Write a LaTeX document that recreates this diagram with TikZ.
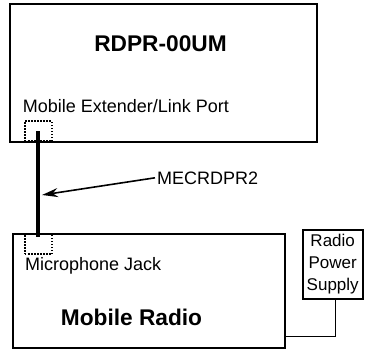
\documentclass[tikz,border=0pt]{standalone}
\usepackage{fontspec}
\setmainfont{Liberation Sans}
\usetikzlibrary{arrows.meta,positioning,calc}
\tikzset{
    box/.style={draw, line width=2pt, inner sep=0pt, outer sep=0pt},
    port/.style={draw, line width=1.5pt, dash pattern=on 1.5pt off 1.5pt, minimum width=27pt, minimum height=20pt, inner sep=0pt},
    cable/.style={line width=4pt, shorten >=7pt},
    pointer/.style={-{Stealth[length=16pt, width=9pt]}, line width=1.6pt},
    wire/.style={line width=1.5pt}
}

\begin{document}
\begin{tikzpicture}[
        x=1pt, y=-1pt,
        txt/.style={font=\fontsize{18}{22}\selectfont, inner sep=0pt},
        title/.style={font=\fontsize{22.7}{27}\selectfont\bfseries, anchor=base, inner sep=0pt}
    ]
    \useasboundingbox (0,0) rectangle (368,351);

    % RDPR unit
    \node[box, minimum width=307, minimum height=138] (rdpr) at (163.5,73) {};
    \node[title] (rdprname) at (160.5,51.7) {RDPR-00UM};
    \node[txt, anchor=base west] (mel) at (22.7,112.7) {Mobile Extender/Link Port};
    \node[port] (mport) at (38.5,131) {};

    % Mobile radio
    \node[box, minimum width=272, minimum height=114] (radio) at (149,291) {};
    \node[port] (jack) at (38.5,244) {};
    \node[txt, anchor=base west] (mic) at (25,270) {Microphone Jack};
    \node[title] (radioname) at (131.5,325) {Mobile Radio};

    % Power supply
    \node[box, minimum width=60, minimum height=69, font=\fontsize{17}{22}\selectfont, align=center] (psu) at (332.7,264.5) {Radio\\Power\\Supply};
    \draw[wire] ($(psu.south)+(3,0)$) |- ($(radio.south east)+(0,-11.3)$);

    % Cable
    \draw[cable] (mport.center) -- (jack.center);
    \node[txt, anchor=base west, inner sep=2pt] (mec) at (155,184) {MECRDPR2};
    \coordinate (tip) at (42,195);
    \draw[pointer] (mec.west) -- (tip);
\end{tikzpicture}
\end{document}
